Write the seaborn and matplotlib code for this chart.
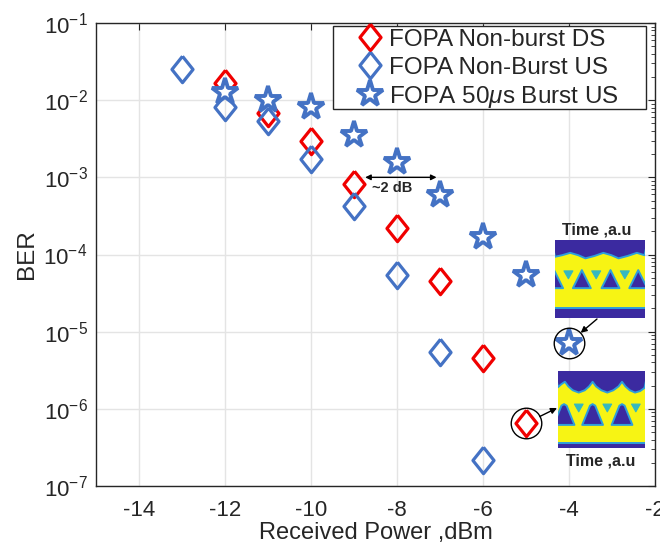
import numpy as np
import pandas as pd
import matplotlib
matplotlib.use("Agg")
import matplotlib.pyplot as plt
import seaborn as sns
from matplotlib.patches import Polygon, Rectangle
from matplotlib.ticker import FixedLocator, LogLocator, LogFormatterSciNotation, NullFormatter, NullLocator

# ---------------- data ----------------
ds_power = [-12, -11, -10, -9, -8, -7, -6, -5]
ds_ber = [1.65e-2, 6.8e-3, 2.97e-3, 8.2e-4, 2.2e-4, 4.6e-5, 4.55e-6, 6.5e-7]

us_power = [-13, -12, -11, -10, -9, -8, -7, -6]
us_ber = [2.5e-2, 8.2e-3, 5.4e-3, 1.74e-3, 4.2e-4, 5.5e-5, 5.4e-6, 2.2e-7]

burst_power = [-12, -11, -10, -9, -8, -7, -6, -5, -4]
burst_ber = [1.29e-2, 1.0e-2, 8.1e-3, 3.5e-3, 1.6e-3, 5.9e-4, 1.67e-4, 5.5e-5, 7.2e-6]

series_labels = ["FOPA Non-burst DS", "FOPA Non-Burst US", r"FOPA 50$\mu$s Burst US"]
x_ticks = [-14, -12, -10, -8, -6, -4, -2]
x_label = "Received Power ,dBm"
y_label = "BER"
eye_label = "Time ,a.u"
gap_label = "~2 dB"

RED = "#F00000"
BLUE = "#4472C4"

# ---------------- style ----------------
sns.set_theme(style="white")
plt.rcParams["font.family"] = ["Liberation Sans", "DejaVu Sans"]
plt.rcParams["mathtext.fontset"] = "custom"
plt.rcParams["mathtext.rm"] = "Liberation Sans"
plt.rcParams["mathtext.it"] = "Liberation Sans:italic"
plt.rcParams["mathtext.bf"] = "Liberation Sans:bold"
plt.rcParams["axes.unicode_minus"] = False

W, H = 660, 550
fig = plt.figure(figsize=(6.6, 5.5), dpi=100)
ax = fig.add_axes([96 / W, 1 - 486 / H, (655 - 96) / W, (486 - 23) / H])
ax.set_yscale("log")

diamond = [(0, 1), (0.8, 0), (0, -1), (-0.8, 0), (0, 1)]

df_ds = pd.DataFrame({"power": ds_power, "ber": ds_ber})
df_us = pd.DataFrame({"power": us_power, "ber": us_ber})
df_b = pd.DataFrame({"power": burst_power, "ber": burst_ber})

sns.lineplot(data=df_ds, x="power", y="ber", ax=ax, linestyle="none", marker=diamond,
             markersize=19, markerfacecolor="none", markeredgecolor=RED,
             markeredgewidth=2.3, color=RED, label=series_labels[0])
sns.lineplot(data=df_us, x="power", y="ber", ax=ax, linestyle="none", marker=diamond,
             markersize=19, markerfacecolor="none", markeredgecolor=BLUE,
             markeredgewidth=2.3, color=BLUE, label=series_labels[1])
sns.lineplot(data=df_b, x="power", y="ber", ax=ax, linestyle="none", marker="*",
             markersize=20, markerfacecolor="white", markeredgecolor=BLUE,
             markeredgewidth=2.8, color=BLUE, label=series_labels[2])

ax.set_xlim(-15, -2)
ax.set_ylim(1e-7, 1e-1)
ax.xaxis.set_major_locator(FixedLocator(x_ticks))
ax.xaxis.set_minor_locator(NullLocator())
ax.yaxis.set_major_locator(LogLocator(base=10, numticks=20))
ax.yaxis.set_minor_locator(LogLocator(base=10, subs=np.arange(2, 10), numticks=20))
ax.yaxis.set_major_formatter(LogFormatterSciNotation())
ax.yaxis.set_minor_formatter(NullFormatter())

ax.grid(True, which="major", color="#e4e4e4", lw=1)
ax.set_axisbelow(True)
ax.tick_params(which="both", direction="in", top=True, right=True, colors="#262626",
               labelcolor="#262626")
ax.tick_params(which="major", length=5, width=0.8, labelsize=16)
ax.tick_params(axis="x", which="major", pad=10)
ax.tick_params(axis="y", which="major", pad=6)
ax.tick_params(which="minor", length=3, width=0.6)
for s in ax.spines.values():
    s.set_color("#262626")
    s.set_linewidth(1.0)

ax.set_xlabel(x_label, fontsize=17, color="#262626", labelpad=1)
ax.set_ylabel(y_label, fontsize=17.5, color="#262626", labelpad=4)

# legend: frame drawn as a separate box, entries placed inside it
frame = Rectangle((333 / W, 1 - 109 / H), (646 - 333) / W, (109 - 26) / H,
                  transform=fig.transFigure, facecolor="white", edgecolor="#262626",
                  lw=1.0, zorder=4, clip_on=False)
ax.add_patch(frame)
leg = ax.legend(loc="upper left", bbox_to_anchor=(346 / W, 1 - 28 / H),
                bbox_transform=fig.transFigure, fontsize=17.5, frameon=False,
                handlelength=2.0, handletextpad=-0.25, handleheight=0.8,
                labelspacing=0.22, borderpad=0.0, borderaxespad=0.0)
leg.set_zorder(5)

# ~2 dB annotation
ax.annotate("", xy=(-7.08, 1.0e-3), xytext=(-8.74, 1.0e-3),
            arrowprops=dict(arrowstyle="<|-|>", color="black", lw=1, mutation_scale=8,
                            shrinkA=0, shrinkB=0))
ax.text(-8.12, 7.3e-4, gap_label, fontsize=10.5, fontweight="bold", ha="center", va="center")

# highlight circles
ax.plot([burst_power[-1]], [burst_ber[-1]], marker="o", ms=22, mfc="none", mec="black",
        mew=1.0, ls="none")
ax.plot([ds_power[-1]], [ds_ber[-1]], marker="o", ms=22, mfc="none", mec="black",
        mew=1.0, ls="none")

# arrows to the eye diagrams
ax.annotate("", xy=(burst_power[-1], burst_ber[-1]), xycoords="data",
            xytext=(597 / W, 1 - 319 / H), textcoords="figure fraction",
            arrowprops=dict(arrowstyle="-|>", color="black", lw=1, mutation_scale=9,
                            shrinkA=0, shrinkB=11))
ax.annotate("", xy=(557 / W, 1 - 408 / H), xycoords="figure fraction",
            xytext=(ds_power[-1], ds_ber[-1]), textcoords="data",
            arrowprops=dict(arrowstyle="-|>", color="black", lw=1, mutation_scale=9,
                            shrinkA=11, shrinkB=0), annotation_clip=False)

# ---------------- eye diagram insets (decoration) ----------------
EYE_BLUE = "#3B2AA0"
EYE_YEL = "#F7F414"
EYE_EDGE = "#2E9FDB"
EYE_CYAN = "#35B8C0"


def eye_axes(rect):
    iax = fig.add_axes(rect)
    iax.set_xlim(0, 1)
    iax.set_ylim(0, 1)
    iax.set_facecolor(EYE_YEL)
    iax.set_xticks([])
    iax.set_yticks([])
    for s in iax.spines.values():
        s.set_visible(False)
    return iax


def add_poly(iax, pts, fc, ec=EYE_EDGE, lw=1.4):
    iax.add_patch(Polygon(pts, closed=True, facecolor=fc, edgecolor=ec, lw=lw,
                          joinstyle="round", clip_on=True))


# top inset (burst US at -4 dBm)
iax1 = eye_axes([555 / W, 1 - 318 / H, 89.5 / W, 78.5 / H])
top1 = [(0, 0.78), (0.08, 0.80), (0.17, 0.83), (0.26, 0.80), (0.34, 0.76), (0.44, 0.79),
        (0.54, 0.83), (0.63, 0.80), (0.71, 0.76), (0.81, 0.79), (0.915, 0.83), (1.0, 0.80)]
add_poly(iax1, [(-0.05, 1.05)] + top1 + [(1.05, 1.05)], EYE_BLUE)
for c in [0.15, 0.46, 0.78]:
    add_poly(iax1, [(c - 0.05, 0.60), (c + 0.05, 0.60), (c, 0.50)], EYE_CYAN, ec=EYE_CYAN, lw=0.8)
for c in [-0.01, 0.30, 0.62, 0.93]:
    add_poly(iax1, [(c - 0.10, 0.38), (c + 0.10, 0.38), (c, 0.61)], EYE_BLUE)
add_poly(iax1, [(-0.05, -0.05), (1.05, -0.05), (1.05, 0.13), (-0.05, 0.13)], EYE_BLUE)

# bottom inset (non-burst DS at -5 dBm)
iax2 = eye_axes([558 / W, 1 - 448 / H, 86.5 / W, 77 / H])
top2 = [(0, 0.79), (0.04, 0.83), (0.08, 0.86), (0.12, 0.80), (0.17, 0.75), (0.24, 0.72),
        (0.31, 0.75), (0.36, 0.80), (0.40, 0.86), (0.44, 0.80), (0.50, 0.75), (0.57, 0.72),
        (0.64, 0.75), (0.70, 0.80), (0.74, 0.86), (0.78, 0.80), (0.83, 0.75), (0.89, 0.72),
        (0.95, 0.74), (1.0, 0.78)]
add_poly(iax2, [(-0.05, 1.05)] + top2 + [(1.05, 1.05)], EYE_BLUE)
for c in [0.24, 0.57, 0.90]:
    add_poly(iax2, [(c - 0.05, 0.57), (c + 0.05, 0.57), (c, 0.47)], EYE_CYAN, ec=EYE_CYAN, lw=0.8)
for c in [0.07, 0.40, 0.74]:
    add_poly(iax2, [(c - 0.12, 0.30), (c + 0.12, 0.30), (c + 0.03, 0.55), (c, 0.57),
                    (c - 0.03, 0.55)], EYE_BLUE)
add_poly(iax2, [(-0.05, -0.05), (1.05, -0.05), (1.05, 0.07), (-0.05, 0.07)], EYE_BLUE)

fig.text(597 / W, 1 - 230 / H, eye_label, fontsize=11.5, fontweight="bold",
         ha="center", va="center")
fig.text(601 / W, 1 - 461 / H, eye_label, fontsize=11.5, fontweight="bold",
         ha="center", va="center")

fig.savefig("out.png", dpi=100)
